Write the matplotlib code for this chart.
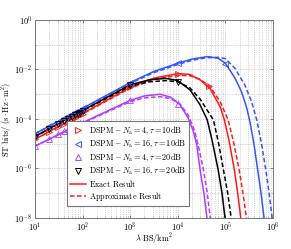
import numpy as np
import matplotlib
matplotlib.use("Agg")
import matplotlib.pyplot as plt
from matplotlib.ticker import FuncFormatter, LogLocator, NullFormatter
from matplotlib.lines import Line2D

plt.rcParams['mathtext.fontset'] = 'cm'
plt.rcParams['font.family'] = ['DejaVu Serif']

# curves, as log10(lambda) / log10(ST)
blue_x = [1, 2, 3, 3.5, 4, 4.3, 4.63, 4.85, 5.0, 5.2, 5.34, 5.45, 5.52, 5.6, 5.68, 5.75, 5.82]
blue_y = [-4.6, -3.57, -2.53, -2.08, -1.75, -1.58, -1.48, -1.55, -1.75, -2.34, -2.9, -3.56, -4.15, -5.0, -6.06, -7.0, -8.1]
blue_dx = [1, 2, 3, 3.5, 4, 4.3, 4.6, 4.84, 5.0, 5.2, 5.41, 5.55, 5.66, 5.76, 5.85, 5.92, 5.99]
blue_dy = [-4.6, -3.58, -2.56, -2.13, -1.8, -1.63, -1.53, -1.51, -1.56, -1.95, -2.63, -3.3, -4.04, -5.0, -6.06, -7.0, -8.1]

red_x = [1, 2, 3, 3.5, 4.0, 4.25, 4.47, 4.68, 4.89, 4.98, 5.08, 5.19, 5.26, 5.33]
red_y = [-4.82, -3.78, -2.72, -2.35, -2.17, -2.2, -2.42, -2.78, -3.5, -4.04, -4.9, -6.06, -7.0, -8.1]
red_dx = [1, 2, 3, 3.5, 4.0, 4.25, 4.47, 4.68, 4.89, 5.06, 5.18, 5.29, 5.37, 5.45]
red_dy = [-4.82, -3.8, -2.76, -2.4, -2.24, -2.25, -2.4, -2.7, -3.3, -4.04, -5.0, -6.06, -7.0, -8.1]

black_x = [1, 2, 3, 3.4, 3.75, 4.0, 4.26, 4.47, 4.62, 4.72, 4.85, 4.93, 5.0]
black_y = [-4.71, -3.66, -2.62, -2.42, -2.36, -2.45, -2.83, -3.43, -4.04, -4.85, -6.06, -7.0, -8.1]
black_dx = [1, 2, 3, 3.4, 3.75, 4.0, 4.26, 4.47, 4.62, 4.75, 4.86, 4.96, 5.05, 5.13]
black_dy = [-4.71, -3.68, -2.67, -2.5, -2.45, -2.5, -2.75, -3.2, -3.65, -4.04, -5.0, -6.06, -7.0, -8.1]

purple_x = [1, 2, 3, 3.3, 3.63, 3.85, 4.05, 4.22, 4.33, 4.4, 4.47, 4.55, 4.62]
purple_y = [-5.1, -4.15, -3.25, -3.07, -3.0, -3.12, -3.43, -3.97, -4.51, -5.05, -6.06, -7.0, -8.1]
purple_dx = [1, 2, 3, 3.3, 3.63, 3.85, 4.05, 4.22, 4.35, 4.43, 4.54, 4.62, 4.69]
purple_dy = [-5.1, -4.17, -3.3, -3.15, -3.1, -3.18, -3.4, -3.85, -4.45, -5.05, -6.06, -7.0, -8.1]

# simulation markers (DSPM)
mk_lam = [10, 20, 30, 40, 50, 60, 70, 80, 90, 100, 1000, 10000]
blue_mk = [-4.6, -4.29, -4.11, -3.98, -3.88, -3.79, -3.72, -3.67, -3.62, -3.57, -2.53, -1.75]
red_mk = [-4.82, -4.51, -4.33, -4.2, -4.1, -4.02, -3.95, -3.89, -3.84, -3.78, -2.72, -2.17]
black_mk = [-4.71, -4.4, -4.22, -4.09, -4.0, -3.92, -3.85, -3.79, -3.74, -3.68, -2.62, -2.5]
purple_mk = [-5.1, -4.8, -4.62, -4.5, -4.4, -4.33, -4.26, -4.2, -4.15, -4.15, -3.25, -3.4]
blue_mk_extra = ([1e5], [-1.8])
red_mk_extra = ([4.5e4], [-2.68])

labels = [r'$\mathrm{DSPM}-N_\mathrm{a}=4, \tau=10\mathrm{dB}$',
          r'$\mathrm{DSPM}-N_\mathrm{a}=16, \tau=10\mathrm{dB}$',
          r'$\mathrm{DSPM}-N_\mathrm{a}=4, \tau=20\mathrm{dB}$',
          r'$\mathrm{DSPM}-N_\mathrm{a}=16, \tau=20\mathrm{dB}$',
          r'$\mathrm{Exact\ Result}$', r'$\mathrm{Approximate\ Result}$']

c_red = '#ff1a1a'
c_blue = '#3355ff'
c_purple = '#b23cff'
c_black = 'black'

fig = plt.figure(figsize=(2.91, 2.49), dpi=100)
ax = fig.add_axes([0.12, 0.1245, 0.818, 0.7955])

def p(v):
    return 10 ** np.array(v, dtype=float)

lw = 1.1
dash = (0, (3, 1.6))
for xs, ys, dxs, dys, c in [(blue_x, blue_y, blue_dx, blue_dy, c_blue),
                            (red_x, red_y, red_dx, red_dy, c_red),
                            (black_x, black_y, black_dx, black_dy, c_black),
                            (purple_x, purple_y, purple_dx, purple_dy, c_purple)]:
    ax.plot(p(xs), p(ys), color=c, lw=lw)
    ax.plot(p(dxs), p(dys), color=c, lw=lw, ls=dash)

ms = 4
ax.plot(mk_lam, p(red_mk), '>', color=c_red, mfc='none', ms=ms, mew=0.6)
ax.plot(red_mk_extra[0], p(red_mk_extra[1]), '>', color=c_red, mfc='none', ms=ms, mew=0.6)
ax.plot(mk_lam, p(blue_mk), '<', color=c_blue, mfc='none', ms=ms, mew=0.6)
ax.plot(blue_mk_extra[0], p(blue_mk_extra[1]), '<', color=c_blue, mfc='none', ms=ms, mew=0.6)
ax.plot(mk_lam, p(purple_mk), '^', color=c_purple, mfc='none', ms=ms, mew=0.6)
ax.plot(mk_lam, p(black_mk), 'v', color=c_black, mfc='none', ms=ms, mew=0.6)

ax.set_xscale('log')
ax.set_yscale('log')
ax.set_xlim(1e1, 1e6)
ax.set_ylim(1e-8, 1e0)
ax.xaxis.set_major_locator(LogLocator(base=10, numticks=10))
ax.yaxis.set_major_locator(LogLocator(base=100, numticks=10))
ax.xaxis.set_minor_locator(LogLocator(base=10, subs=np.arange(2, 10), numticks=20))
ax.yaxis.set_minor_locator(LogLocator(base=10, subs=[1.0], numticks=20))
fmt = FuncFormatter(lambda v, pos: r'$\mathsf{10^{%d}}$' % round(np.log10(v)))
ax.xaxis.set_major_formatter(fmt)
ax.yaxis.set_major_formatter(fmt)
ax.xaxis.set_minor_formatter(NullFormatter())
ax.yaxis.set_minor_formatter(NullFormatter())
ax.grid(True, which='both', ls=':', lw=0.5, color='#b0b0b0')
ax.tick_params(which='both', direction='in', top=True, right=True, labelsize=6, length=2, width=0.5, color='#555555', pad=2)
ax.tick_params(which='minor', length=1)
for s in ax.spines.values():
    s.set_color('#777777')
    s.set_linewidth(0.7)

ax.set_xlabel(r'$\lambda\ \mathrm{BS/km^2}$', fontsize=6)
ax.set_ylabel(r'$\mathrm{ST\ bits/\ (s\cdot Hz\cdot m^2)}$', fontsize=6)
ax.xaxis.set_label_coords(0.5, -0.07)
ax.yaxis.set_label_coords(-0.085, 0.5)

handles = [Line2D([], [], ls='none', marker='>', color=c_red, mfc='none', ms=5, mew=0.7),
           Line2D([], [], ls='none', marker='<', color=c_blue, mfc='none', ms=5, mew=0.7),
           Line2D([], [], ls='none', marker='^', color=c_purple, mfc='none', ms=5, mew=0.7),
           Line2D([], [], ls='none', marker='v', color=c_black, mfc='none', ms=5, mew=0.7),
           Line2D([], [], color=c_red, lw=1.1),
           Line2D([], [], color=c_red, lw=1.1, ls=dash)]
leg = ax.legend(handles, labels, loc='lower left', bbox_to_anchor=(0.134, 0.06),
                fontsize=5.9, frameon=True, fancybox=False, borderpad=0.35,
                labelspacing=0.12, handlelength=2.0, handletextpad=0.4, borderaxespad=0)
leg.get_frame().set_edgecolor('#777777')
leg.get_frame().set_linewidth(0.8)
leg.get_frame().set_alpha(1)

fig.savefig('out.png', dpi=100)
